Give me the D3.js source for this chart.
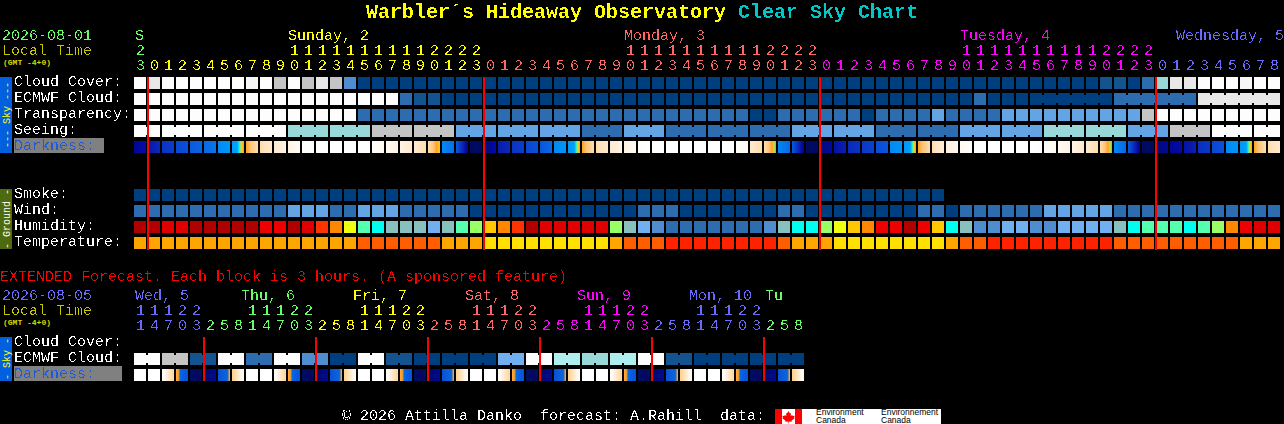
<!DOCTYPE html>
<html><head><meta charset="utf-8">
<script src="https://cdn.jsdelivr.net/npm/d3@7/dist/d3.min.js"></script>
<style>
html,body{margin:0;padding:0;background:#000;overflow:hidden}
svg{display:block}
text{font-family:"Liberation Mono",monospace;white-space:pre}
</style></head><body>
<script>
// ---------- data ----------
const hours = [23,
 0,1,2,3,4,5,6,7,8,9,10,11,12,13,14,15,16,17,18,19,20,21,22,23,
 0,1,2,3,4,5,6,7,8,9,10,11,12,13,14,15,16,17,18,19,20,21,22,23,
 0,1,2,3,4,5,6,7,8,9,10,11,12,13,14,15,16,17,18,19,20,21,22,23,
 0,1,2,3,4,5,6,7,8];
const dayNames = ["S","Sunday, 2","Monday, 3","Tuesday, 4","Wednesday, 5"];
const cloudCover = [100,90,100,100,100,100,100,100,96,100,80,100,80,90,80,30,0,0,0,0,0,0,0,0,0,0,0,0,0,0,0,0,0,0,0,0,0,0,0,0,0,0,0,0,0,0,0,0,0,0,0,0,0,0,0,0,0,0,0,0,0,0,0,0,0,0,0,0,0,10,10,0,20,60,90,90,100,100,100,96,100,100];
const ecmwfCloud = [100,100,100,100,100,100,100,100,100,100,100,100,100,100,100,100,100,100,100,20,10,10,0,0,0,0,0,0,0,0,0,0,0,0,0,0,0,0,0,0,0,0,0,0,0,0,0,0,0,0,0,0,0,0,0,0,0,0,0,0,20,0,0,0,0,0,0,0,0,0,20,20,20,20,20,20,90,90,90,90,90,90];
const ecmwfJoined = [64,65,66,67,68,70,71,72,73,74,76,77,78,79,80];
const transparency = [5,5,5,5,5,5,5,5,5,5,5,5,5,5,5,5,1,1,1,1,1,1,1,1,1,1,1,1,1,1,1,1,1,1,1,1,1,1,1,1,1,1,1,1,0,0,1,1,1,1,1,1,0,1,1,1,1,2,1,1,1,1,2,2,2,2,2,2,2,2,2,2,4,5,5,5,5,5,5,5,5,5];
const seeing = [5,5,5,5,5,5,5,5,5,5,5,3,3,3,3,3,3,4,4,4,4,4,4,2,2,2,2,2,2,2,2,2,1,1,1,2,2,2,1,1,1,1,1,1,1,1,1,2,2,2,2,2,2,1,1,1,1,1,1,2,2,2,2,2,2,3,3,3,3,3,3,2,2,2,4,4,4,5,5,5,5,5];
const seeingGroupStart = [0,2,5,8,11,14,17,20,23,26,29,32,35,38,41,44,47,50,53,56,59,62,65,68,71,74,77,80];
const darkStart = [8,16,28,36,44,50,58,66,75,84,88,92,98,100,100,100,100,99,96,92,88,84,58,44,0,4,18,28,36,42,58,64,75,84,88,92,98,100,100,100,100,100,100,99,88,84,58,44,0,4,14,24,30,38,58,64,75,84,90,95,100,100,100,100,100,99,96,92,88,84,58,44,0,4,8,14,26,36,58,64,75,84];
const darkEnd   = [12,24,32,40,48,54,64,75,84,88,92,96,100,100,100,100,100,96,92,88,84,72,52,5,0,12,24,32,40,50,62,75,84,88,92,96,100,100,100,100,100,100,99,96,84,71,50,5,0,10,20,28,34,42,62,75,84,90,94,98,100,100,100,100,99,96,92,88,84,71,50,4,0,8,12,20,30,40,62,75,84,88];
const smoke = [0,0,0,0,0,0,0,0,0,0,0,0,0,0,0,0,0,0,0,0,0,0,0,0,0,0,0,0,0,0,0,0,0,0,0,0,0,0,0,0,0,0,0,0,0,0,0,0,0,0,0,0,0,0,0,0,0,0];
const wind = [8,8,8,8,8,8,8,8,8,8,8,14,14,14,8,8,14,14,14,8,8,8,8,8,3,3,3,3,3,3,3,3,3,3,3,3,8,8,8,3,3,3,3,3,3,3,8,8,3,3,3,3,3,3,3,3,8,8,3,8,8,8,8,8,8,14,14,14,14,14,8,8,8,8,8,8,8,8,8,8,8,8];
const humidity = [95,95,90,90,95,95,95,95,95,85,85,95,90,80,75,65,55,50,45,45,45,40,45,55,60,70,75,80,95,90,90,90,90,90,60,45,40,35,30,30,30,30,30,30,30,35,45,50,50,60,65,70,75,85,85,95,85,70,50,45,35,35,40,40,35,35,40,40,40,40,45,50,55,55,55,50,55,60,75,85,90,90];
const temperature = [18,18,18,18,18,18,18,18,18,18,18,18,18,18,18,18,24,24,24,24,24,24,18,18,18,14,14,14,14,14,14,14,14,14,18,24,24,24,29,29,29,29,29,29,29,29,24,18,18,18,14,14,14,14,14,14,14,14,18,24,24,29,29,29,29,29,29,29,29,29,24,24,24,24,24,24,24,24,24,18,18,18];

const extHours = [11,14,17,20,23,2,5,8,11,14,17,20,23,2,5,8,11,14,17,20,23,2,5,8,11,14,17,20,23,2,5,8,11,14,17,20,23,2,5,8,11,14,17,20,23,2,5,8];
const extDayNames = ["Wed, 5","Thu, 6","Fri, 7","Sat, 8","Sun, 9","Mon, 10","Tu"];
const extCloud = [100,100,80,80,10,10,100,100,20,20,100,100,30,30,0,0,100,100,10,10,0,0,0,0,0,0,50,50,100,100,70,70,60,60,70,70,100,100,10,10,0,0,0,0,0,0,0,0];
const extDarkStart = [100,100,99,72,0,0,30,76,100,100,99,72,0,0,30,76,100,100,99,72,0,0,30,76,100,100,99,72,0,0,30,76,100,100,99,72,0,0,30,76,100,100,99,72,0,0,30,76];
const extDarkEnd   = [100,100,78,30,0,14,66,99,100,100,78,30,0,14,66,99,100,100,78,30,0,14,66,99,100,100,78,30,0,14,66,99,100,100,78,30,0,14,66,99,100,100,78,30,0,14,66,99];

const skyRows = ["Cloud Cover:","ECMWF Cloud:","Transparency:","Seeing:","Darkness:"];
const groundRows = ["Smoke:","Wind:","Humidity:","Temperature:"];
const extRows = ["Cloud Cover:","ECMWF Cloud:","Darkness:"];

// ---------- colour scales ----------
const cloudColor = d3.scaleThreshold().domain([5,15,25,35,45,55,65,75,85,95,98])
  .range(["#003f7f","#135390","#2e6cb0","#4f8dd0","#63a4e4","#70b0f0","#98d8d8","#aeeeee","#c4c4c4","#e8e8e8","#f6f6f6","#fdfdfd"]);
const skyClass = d3.scaleOrdinal().domain([0,1,2,3,4,5]).range(["#003f7f","#2e6cb0","#63a4e4","#98d8d8","#c4c4c4","#fdfdfd"]);
const windColor = d3.scaleThreshold().domain([6,12]).range(["#003f7f","#2e6cb0","#63a4e4"]);
const humColor = d3.scaleOrdinal().domain([30,35,40,45,50,55,60,65,70,75,80,85,90,95])
  .range(["#2e6cb0","#4f8dd0","#70b0f0","#88c0c0","#00ffee","#55ffb0","#99ff66","#eeff10","#ffc800","#ff8800","#ff3300","#ee0000","#e00000","#b00000"]);
const tempColor = d3.scaleThreshold().domain([16,21,27]).range(["#ffe000","#ffa500","#ff5e00","#ff2200"]);
const darkColor = d3.scaleLinear()
  .domain([0,10,20,30,40,50,60,70,71.5,73,75,79,86,93,100])
  .range(["#000a60","#0008a0","#0a20b0","#0a38c8","#0a50d8","#0a68e4","#0090f5","#00a0ff","#00ffe0","#ffd020","#ffa020","#ffc880","#ffe4c0","#fff6ea","#ffffff"]);
const extDarkColor = d3.scaleLinear()
  .domain([0,20,30,50,60,62,70,76,86,93,100])
  .range(["#000a60","#0008b0","#0a50d8","#0a60e0","#0a68e4","#ffa020","#ffa020","#ffd090","#ffe4c0","#fff6ea","#ffffff"]);

const dayColor = ["#66ff66","#ffff00","#ff6666","#ff00ff","#6a6aff"];
const extDayColor = ["#6a6aff","#66ff66","#ffff00","#ff6666","#ff00ff","#6a6aff","#66ff66"];

// ---------- layout ----------
const svg = d3.select("body").append("svg").attr("width",1284).attr("height",424);
svg.append("rect").attr("width",1284).attr("height",424).attr("fill","#000");
const defs = svg.append("defs");
const crisp = defs.append("filter").attr("id","crisp").attr("x","0").attr("y","0").attr("width","1284").attr("height","424")
  .attr("filterUnits","userSpaceOnUse").attr("color-interpolation-filters","sRGB");
crisp.append("feComponentTransfer").append("feFuncA").attr("type","discrete").attr("tableValues","0 0 0 1 1");

const x = d3.scaleBand().domain(d3.range(hours.length)).range([134,1280]).paddingInner(1/7).paddingOuter(0);
const xe = d3.scaleBand().domain(d3.range(extHours.length)).range([134,804]).paddingInner(1/7).paddingOuter(0);
const ySky = d3.scaleBand().domain(skyRows).range([77,153]).paddingInner(.25);
const yGround = d3.scaleBand().domain(groundRows).range([189,249]).paddingInner(.25);
const yExt = d3.scaleBand().domain(extRows).range([337,381]).paddingInner(.25);

const marks = svg.append("g").attr("shape-rendering","crispEdges");
const txt = svg.append("g").attr("filter","url(#crisp)");
const soft = svg.append("g");

function cells(vals, xs, ys, row, color, cls){
  marks.append("g").attr("class",cls).selectAll("rect").data(vals).join("rect")
    .attr("x",(d,i)=>xs(i)).attr("y",ys(row)).attr("width",xs.bandwidth()).attr("height",ys.bandwidth())
    .attr("fill",d=>color(d));
}
function joins(vals, idx, xs, ys, row, color){
  marks.append("g").selectAll("rect").data(idx).join("rect")
    .attr("x",i=>xs(i)+xs.bandwidth()).attr("y",ys(row)+2).attr("width",xs.step()-xs.bandwidth())
    .attr("height",ys.bandwidth()-4).attr("fill",i=>color(vals[i]));
}
function gradCells(a,b,xs,ys,row,prefix,color){
  const t = d3.range(0,1.0001,1/12);
  a.forEach((d,i)=>{
    const g = defs.append("linearGradient").attr("id",prefix+i);
    t.forEach(k=>g.append("stop").attr("offset",k).attr("stop-color",color(d+(b[i]-d)*k)));
  });
  marks.append("g").selectAll("rect").data(a).join("rect")
    .attr("x",(d,i)=>xs(i)).attr("y",ys(row)).attr("width",xs.bandwidth()).attr("height",ys.bandwidth())
    .attr("fill",(d,i)=>`url(#${prefix}${i})`);
}

// main chart
cells(cloudCover,x,ySky,skyRows[0],cloudColor,"cloud");
cells(ecmwfCloud,x,ySky,skyRows[1],cloudColor,"ecmwf");
joins(ecmwfCloud,ecmwfJoined,x,ySky,skyRows[1],cloudColor);
cells(transparency,x,ySky,skyRows[2],skyClass,"transp");
cells(seeing,x,ySky,skyRows[3],skyClass,"seeing");
const seeingJoin = d3.range(hours.length-1).filter(i=>!seeingGroupStart.includes(i+1));
joins(seeing,seeingJoin,x,ySky,skyRows[3],skyClass);
gradCells(darkStart,darkEnd,x,ySky,skyRows[4],"dk",darkColor);
cells(smoke,x,yGround,groundRows[0],windColor,"smoke");
cells(wind,x,yGround,groundRows[1],windColor,"wind");
cells(humidity,x,yGround,groundRows[2],humColor,"hum");
cells(temperature,x,yGround,groundRows[3],tempColor,"temp");

// midnight lines
marks.append("g").selectAll("rect").data(hours.map((h,i)=>h===0?i:-1).filter(i=>i>=0)).join("rect")
  .attr("x",i=>Math.round(x(i))-1).attr("y",77).attr("width",2).attr("height",173).attr("fill","#ff0000");

// extended chart
cells(extCloud,xe,yExt,extRows[1],cloudColor,"extcloud");
joins(extCloud,d3.range(0,47,2),xe,yExt,extRows[1],cloudColor);
gradCells(extDarkStart,extDarkEnd,xe,yExt,extRows[2],"edk",extDarkColor);
marks.append("g").selectAll("rect").data(extHours.map((h,i)=>h===2?i:-1).filter(i=>i>=0)).join("rect")
  .attr("x",i=>Math.round(xe(i))-1).attr("y",337).attr("width",2).attr("height",44).attr("fill","#ff0000");

// side bars
marks.append("rect").attr("x",0).attr("y",77).attr("width",12).attr("height",76).attr("fill","#0060e0");
marks.append("rect").attr("x",0).attr("y",189).attr("width",12).attr("height",60).attr("fill","#4e6a0e");
marks.append("rect").attr("x",0).attr("y",337).attr("width",12).attr("height",44).attr("fill","#0060e0");
marks.append("rect").attr("x",14).attr("y",138).attr("width",90).attr("height",15).attr("fill","#808080");
marks.append("rect").attr("x",14).attr("y",366).attr("width",108).attr("height",15).attr("fill","#808080");

function T(s,px,py,col,size){
  return txt.append("text").attr("x",px).attr("y",py).attr("fill",col).attr("font-size",size||15).text(s);
}
function small(s,px,py){
  soft.append("text").attr("x",px).attr("y",py).attr("fill","#d8d800").attr("font-size",8).attr("font-weight","bold").text(s);
}
// title
const title = T("",366,18,"#ffff00",20).attr("font-weight","bold");
title.append("tspan").text("Warbler´s Hideaway Observatory ");
title.append("tspan").attr("fill","#00c8c8").text("Clear Sky Chart");

// main header
T("2026-08-01",2,40,"#66ff66");
T("Local Time",2,55,"#c8c800");
small("(GMT -4+0)",3,65);
const dayLabelX = [x(0)+1, x(11), x(35), x(59), 1176];
dayNames.forEach((d,i)=>T(d,dayLabelX[i],40,dayColor[i]));

let day=0;
hours.forEach((h,i)=>{
  if(h===0) day++;
  const c=dayColor[day], px=Math.round(x(i))+2;
  if(h>=10) T(String(Math.floor(h/10)),px,55,c);
  T(String(h%10),px,70,c);
});
// row labels
skyRows.forEach(r=>T(r,14,ySky(r)+9,r==="Darkness:"?"#1e5ad8":"#ffffff"));
groundRows.forEach(r=>T(r,14,yGround(r)+9,"#ffffff"));
// rotated bar labels
function vert(s,cy,col){
  soft.append("text").attr("transform",`translate(10,${cy}) rotate(-90)`).attr("text-anchor","middle")
    .attr("fill",col).attr("font-size",10).text(s);
}
vert("--- Sky ---",115,"#ffff00");
vert("- Ground -",219,"#ffffff");
vert("- Sky -",359,"#ffff00");

// extended header
T("EXTENDED Forecast. Each block is 3 hours. (A sponsored feature)",0,281,"#ff0000");
T("2026-08-05",2,300,"#6a6aff");
T("Local Time",2,315,"#c8c800");
small("(GMT -4+0)",3,325);
const extLabelX = [135,241,353,465,577,689,765];
extDayNames.forEach((d,i)=>T(d,extLabelX[i],300,extDayColor[i]));
let eday=0;
extHours.forEach((h,i)=>{
  if(i>0 && h<extHours[i-1]) eday++;
  const c=extDayColor[eday], px=Math.round(xe(i))+2;
  if(h>=10) T(String(Math.floor(h/10)),px,315,c);
  T(String(h%10),px,330,c);
});
extRows.forEach(r=>T(r,14,yExt(r)+9,r==="Darkness:"?"#1e5ad8":"#ffffff"));

// footer
T("© 2026 Attilla Danko  forecast: A.Rahill  data:",342,420,"#ffffff");
const logo = svg.append("g");
logo.append("rect").attr("x",775).attr("y",409).attr("width",166).attr("height",15).attr("fill","#ffffff");
logo.append("rect").attr("x",775).attr("y",409).attr("width",7).attr("height",15).attr("fill","#ff0000");
logo.append("rect").attr("x",795).attr("y",409).attr("width",7).attr("height",15).attr("fill","#ff0000");
logo.append("path").attr("fill","#ff0000")
  .attr("d","M788.5 411l1.5 2.5 1-.5-.4 3 1.6-1 .5 1 2-.3-.7 2 .7.6-3.2 2.4.3 1-3-.3v1.9h-.6v-1.9l-3 .3.3-1-3.2-2.4.7-.6-.7-2 2 .3.5-1 1.6 1-.4-3 1 .5z");
[["Environment",816,415],["Canada",816,423],["Environnement",881,415],["Canada",881,423]].forEach(a=>{
  logo.append("text").attr("x",a[1]).attr("y",a[2]).attr("fill","#000").attr("font-size",8.5)
    .style("font-family","'Liberation Sans',sans-serif").text(a[0]);
});
</script>
</body></html>
